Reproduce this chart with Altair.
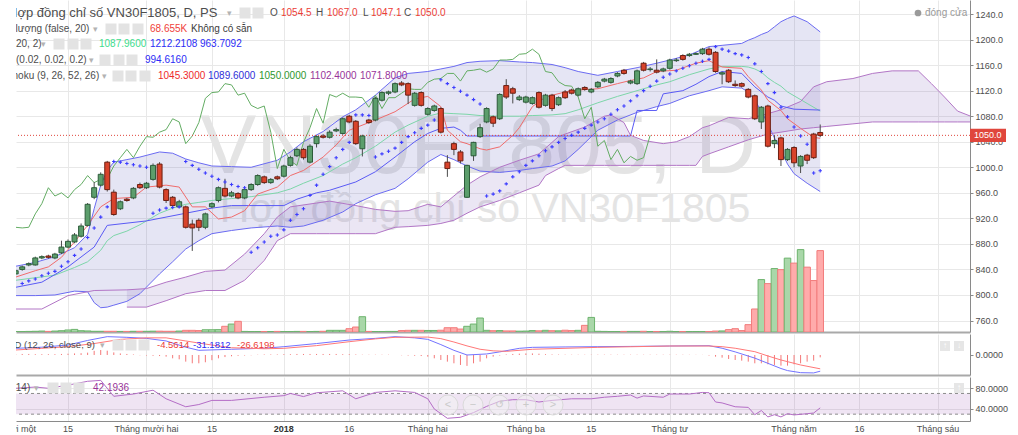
import altair as alt
import pandas as pd

# ======================= data =======================
# trading-day index: 0 = 1 Nov 2017 (Vietnamese holidays skipped)
IDX = list(range(2, 126))
OPEN = [833, 840, 847, 847, 858, 861, 858, 866, 875, 883,
        892, 909, 953, 972, 1008, 961, 935, 950, 952, 973,
        968, 981, 1005, 965, 953, 938, 938, 911, 917, 906,
        938, 948, 967, 955, 959, 952, 965, 973, 985, 976,
        985, 986, 1003, 1018, 1028, 1008, 1037, 1049, 1047, 1057,
        1053, 1080, 1072, 1029, 1074, 1074, 1105, 1116, 1118, 1132,
        1131, 1097, 1117, 1083, 1089, 1092, 1008, 1037, 1024, 953,
        1018, 1048, 1071, 1079, 1076, 1128, 1123, 1106, 1102, 1100,
        1117, 1097, 1113, 1098, 1118, 1121, 1113, 1125, 1118, 1126,
        1135, 1133, 1143, 1152, 1132, 1131, 1163, 1153, 1152, 1151,
        1155, 1167, 1175, 1175, 1177, 1178, 1185, 1180, 1146, 1152,
        1130, 1131, 1122, 1112, 1071, 1096, 1037, 1046, 1012, 1031,
        1002, 1019, 1052, 1054.5]
HIGH = [840, 846, 851, 860, 862, 863, 866, 885, 887, 897,
        912, 944, 977, 992, 1010, 965, 948, 952, 969, 976,
        977, 1006, 1008, 967, 955, 949, 940, 918, 920, 929,
        945, 970, 982, 963, 961, 967, 975, 989, 987, 983,
        987, 1004, 1018, 1031, 1030, 1036, 1050, 1052, 1058, 1062,
        1078, 1082, 1074, 1051, 1076, 1110, 1119, 1120, 1133, 1135,
        1133, 1118, 1119, 1094, 1098, 1094, 1019, 1040, 1027, 1004,
        1040, 1068, 1094, 1081, 1116, 1138, 1126, 1113, 1112, 1111,
        1119, 1115, 1115, 1111, 1121, 1123, 1125, 1127, 1124, 1135,
        1140, 1141, 1149, 1154, 1137, 1153, 1165, 1157, 1169, 1156,
        1170, 1171, 1177, 1179, 1180, 1187, 1188, 1182, 1150, 1154,
        1136, 1133, 1124, 1114, 1096, 1098, 1050, 1048, 1030, 1033,
        1019, 1021, 1054, 1067]
LOW = [831, 838, 845, 846, 856, 857, 856, 864, 873, 881,
       890, 907, 950, 970, 962, 924, 933, 946, 950, 966,
       966, 979, 967, 944, 938, 936, 904, 869, 900, 903,
       936, 945, 953, 953, 950, 950, 963, 971, 974, 974,
       980, 984, 1001, 1016, 1012, 1006, 1031, 1045, 1045, 1055,
       1051, 1069, 1035, 1017, 1068, 1072, 1103, 1113, 1116, 1127,
       1099, 1095, 1095, 1081, 1087, 1053, 985, 1019, 1006, 952,
       1010, 1046, 1069, 1063, 1074, 1107, 1100, 1104, 1100, 1098,
       1092, 1095, 1088, 1096, 1107, 1114, 1111, 1120, 1116, 1124,
       1133, 1131, 1141, 1145, 1130, 1129, 1150, 1150, 1147, 1149,
       1153, 1165, 1167, 1173, 1176, 1176, 1175, 1148, 1130, 1132,
       1126, 1125, 1108, 1074, 1060, 1031, 1030, 1002, 1010, 1000,
       991, 1005, 1013, 1047.1]
CLOSE = [838, 844, 849, 858, 860, 859, 864, 875, 884, 894,
         908, 942, 968, 989, 965, 926, 946, 948, 967, 968,
         975, 1003, 969, 948, 940, 946, 906, 905, 906, 927,
         943, 968, 955, 960, 952, 965, 973, 987, 976, 981,
         982, 1002, 1015, 1028, 1015, 1033, 1048, 1047, 1055, 1059,
         1076, 1071, 1037, 1049, 1070, 1108, 1117, 1118, 1131, 1129,
         1113, 1116, 1097, 1092, 1096, 1055, 998, 1028, 1010, 1003,
         1039, 1062, 1092, 1069, 1114, 1110, 1116, 1110, 1110, 1109,
         1094, 1113, 1092, 1109, 1109, 1116, 1123, 1122, 1122, 1133,
         1138, 1139, 1147, 1147, 1135, 1151, 1152, 1154, 1149, 1154,
         1168, 1168, 1169, 1177, 1178, 1185, 1177, 1150, 1148, 1134,
         1128, 1127, 1110, 1076, 1094, 1033, 1042, 1012, 1028, 1007,
         1017, 1011, 1015, 1050]
VOLUME_K = [0.4, 0.4, 0.5, 0.6, 0.8, 0.5, 0.8, 1.1, 1.7, 2.2,
            1.1, 0.9, 0.6, 0.6, 0.6, 0.6, 0.5, 0.5, 0.6, 0.6,
            0.6, 0.7, 0.7, 0.6, 0.6, 0.8, 1.4, 1.4, 1.2, 1.9,
            1.9, 2.0, 4.8, 6.7, 9.0, 0.5, 0.4, 0.4, 0.4, 0.4,
            0.5, 0.4, 0.4, 0.5, 0.5, 0.4, 0.5, 0.6, 1.4, 1.4,
            1.4, 2.8, 4.2, 12.9, 0.5, 0.4, 0.4, 0.5, 0.5, 1.2,
            1.4, 1.4, 1.4, 1.3, 1.3, 1.5, 3.6, 3.6, 2.5, 4.8,
            6.7, 11.8, 1.4, 1.1, 1.2, 0.9, 0.9, 0.7, 0.8, 1.2,
            1.0, 1.4, 1.1, 1.0, 1.5, 1.2, 1.4, 5.6, 12.3, 0.6,
            0.5, 0.4, 0.4, 0.5, 0.5, 0.5, 0.6, 0.4, 0.4, 0.4,
            0.6, 0.4, 0.4, 0.4, 0.4, 0.4, 0.4, 0.8, 0.9, 2.0,
            2.8, 1.2, 6.2, 19.4, 44.2, 40.8, 53.5, 52.6, 62.3, 58.1,
            69.5, 54.7, 43.4, 68.655]
MACD_HIST = [2, 2, 2, 1.5, 1.5, 1.5, 1.5, 2, 2.5, 3,
             3.5, 4.5, 8, 9.6, 8.3, 5, 3, 2, 1, -0.5,
             -1, -1.5, -2, -3.2, -6.4, -8.3, -12.8, -16, -16, -14,
             -10, -6.4, -4, -2.5, -1.5, -1, -0.5, 0.5, 1, 1,
             1, 1.5, 1.5, 2, 2, 2, 2, 2, 2, 2,
             1.5, 1.5, 1, 0.5, 0.5, 0.5, 0.5, 0.5, 0, -0.5,
             -1, -1.5, -2, -3.2, -6.4, -9.6, -12.8, -16, -19.2, -21,
             -16, -12.8, -6.4, -3.2, -1, 1, 2, 2.5, 3, 3,
             2.5, 1.5, 1, 0.8, 0.6, 0.5, 0.5, 0.5, 0.5, 0.6,
             0.6, 0.6, 0.5, 0.5, 0.5, 0.5, 0.5, 0.5, 0.5, 0.5,
             0.5, 0.5, 0.5, 0.4, 0.3, 0.2, -1, -3.2, -5.1, -7.7,
             -9.6, -10.9, -12.8, -16, -16, -17.9, -19.2, -20.5, -20.5, -17.9,
             -16, -12.8, -10.9, -4.56]

BB_I = [2, 5, 8, 11, 13, 14, 15, 16, 17, 19, 21, 24, 26, 28, 30, 32, 35, 38, 42, 44,
        46, 49, 52, 54, 57, 60, 62, 65, 67, 69, 71, 73, 76, 79, 81, 84, 86, 88, 91, 94,
        97, 100, 102, 105, 108, 110, 113, 114, 115, 116, 117, 118, 119, 120, 121, 123, 125]
BB_UPPER = [845, 851, 860, 874, 895, 935, 972, 995, 1008, 1012, 1016, 1024, 1022, 1013, 1007, 1002, 1001, 1000, 1011, 1024,
            1040, 1056, 1079, 1090, 1113, 1140, 1147, 1150, 1154, 1158, 1164, 1166, 1167, 1165, 1164, 1161, 1156, 1150, 1144, 1150,
            1156, 1163, 1168, 1176, 1189, 1191, 1194, 1199, 1203, 1208, 1212, 1220, 1228, 1233, 1237, 1228, 1212]
BB_MID = [823, 827, 831, 843, 852, 861, 870, 885, 893, 900, 910, 928, 936, 942, 945, 948, 951, 954, 960, 966,
          975, 987, 1005, 1015, 1033, 1055, 1066, 1080, 1085, 1084, 1083, 1081, 1080, 1080, 1081, 1082, 1084, 1090, 1101, 1111,
          1120, 1129, 1134, 1145, 1154, 1158, 1158, 1157, 1154, 1149, 1140, 1133, 1127, 1118, 1112, 1100, 1088]
BB_LOWER = [799, 799, 800, 806, 805, 788, 780, 781, 784, 790, 802, 833, 852, 872, 885, 896, 901, 905, 908, 906,
            908, 917, 930, 943, 957, 967, 982, 1008, 1020, 1012, 1002, 994, 992, 995, 998, 1002, 1010, 1028, 1058, 1074,
            1086, 1095, 1100, 1112, 1120, 1126, 1124, 1118, 1105, 1088, 1068, 1046, 1027, 1005, 990, 975, 962]

TENKAN_I = [2, 5, 7, 9, 11, 13, 15, 17, 20, 22, 25, 27, 29, 31, 33, 35, 37, 39, 42, 44,
            46, 49, 51, 53, 57, 60, 63, 65, 67, 68, 70, 71, 73, 74, 76, 78, 79, 81, 83, 86,
            88, 91, 94, 96, 98, 100, 103, 106, 108, 110, 113, 114, 116, 117, 119, 120, 122, 124, 125]
TENKAN = [828, 838, 844, 859, 883, 909, 938, 951, 953, 969, 972, 969, 938, 938, 919, 922, 932, 958, 969, 987,
          995, 1016, 1035, 1058, 1074, 1087, 1107, 1111, 1095, 1058, 1040, 1037, 1029, 1027, 1032, 1050, 1062, 1095, 1110, 1118,
          1121, 1123, 1131, 1136, 1140, 1150, 1152, 1163, 1167, 1157, 1155, 1142, 1121, 1105, 1089, 1076, 1061, 1047, 1045.3]
KIJUN_I = [2, 6, 10, 14, 16, 22, 28, 32, 35, 43, 45, 48, 50, 54, 57, 60, 63, 65, 67, 69,
           70, 71, 96, 97, 100, 101, 104, 106, 108, 110, 113, 115, 117, 118, 119, 121, 125]
KIJUN = [812, 820, 844, 875, 909, 916, 928, 936, 940, 940, 950, 960, 964, 977, 993, 1016, 1040, 1053, 1061, 1063,
         1058, 1049, 1049, 1089, 1089, 1115, 1120, 1130, 1142, 1150, 1147, 1126, 1110, 1105, 1096, 1091, 1089.6]
SAR_I = list(range(3, 126))
SAR = [818, 822, 825, 830, 834, 837, 845, 852, 862, 872, 890, 905, 922, 938,
       1009, 1008, 1006, 1004, 1002, 1000,
       928, 933, 936, 937, 938,
       1009, 1003, 997, 991, 986, 981, 977, 973, 970, 968,
       867, 874, 883, 892, 894, 902, 917, 926, 935, 956, 972, 989, 1001, 1015, 1028, 1039,
       1082, 1082, 1081,
       1016, 1021, 1025, 1030, 1039, 1048, 1054, 1061, 1066, 1074,
       1137, 1131, 1125, 1119, 1113, 1106, 1099,
       955, 958, 963, 974, 985, 993, 1003, 1010, 1018, 1026, 1032, 1039, 1045, 1050, 1055,
       1061, 1066, 1071, 1076, 1083, 1090, 1096, 1104, 1112, 1120, 1127, 1135, 1141, 1146, 1151,
       1155, 1159, 1163, 1166, 1169,
       1189, 1185, 1182, 1178, 1176, 1172, 1162, 1150, 1131, 1117, 1094, 1079, 1063, 1049, 1036,
       991, 994.6]
SPAN_A_LEAD_I = [2, 6, 10, 14]
SPAN_A_LEAD = [778, 778, 799, 807]
CLOUD_I = [19, 22, 25, 28, 31, 34, 37, 40, 42, 44, 48, 50, 54, 57, 60, 62, 65, 67, 69, 71,
           73, 76, 79, 82, 83, 85, 86, 89, 92, 93, 95, 96, 98, 101, 103, 105, 106, 107, 108, 111,
           114, 117, 119, 122, 124, 126, 130, 133, 136, 140, 142, 144, 146, 148, 151]
SPAN_A = [808, 810, 820, 828, 837, 839, 864, 896, 922, 938, 944, 947, 940, 934, 931, 932, 942, 938, 955, 972,
          985, 1000, 1011, 1021, 1030, 1048, 1052, 1063, 1080, 1082, 1070, 1050, 1042, 1037, 1040, 1048, 1055, 1062, 1065, 1078,
          1076, 1084, 1090, 1103, 1126, 1134, 1139, 1147, 1151, 1151, 1131, 1110, 1088, 1080, 1077]
SPAN_B = [781, 781, 791, 802, 807, 807, 823, 854, 885, 896, 896, 896, 896, 896, 906, 907, 909, 912, 917, 928,
          938, 948, 960, 972, 987, 998, 1003, 1003, 1003, 1003, 1003, 1003, 1003, 1003, 1003, 1003, 1003, 1017, 1021, 1032,
          1043, 1052, 1055, 1060, 1062, 1064, 1068, 1071, 1071, 1071, 1071, 1071, 1071, 1071, 1071]
CHIKOU_SHIFT = 26

MACD_I = [2, 6, 10, 13, 16, 19, 22, 25, 28, 30, 35, 40, 43, 48, 53, 57, 60, 63, 65, 67,
          69, 71, 74, 76, 79, 81, 86, 91, 96, 102, 108, 110, 112, 115, 117, 119, 120, 122, 124, 125]
MACD = [12.8, 15, 19.2, 28, 35.3, 34, 32, 27, 15, 9, 11, 13, 16, 22, 28.8, 32, 35.3, 33, 30.1, 20,
        9, 0, 2, 6, 12.8, 14.7, 15.5, 16, 16.5, 17.3, 17.9, 13, 6, -6, -16, -26, -30, -34, -34.5, -31.2]
SIGNAL_I = [2, 6, 10, 14, 18, 22, 25, 28, 31, 35, 40, 43, 48, 53, 57, 60, 65, 67, 69, 71,
            73, 75, 77, 81, 91, 102, 108, 110, 112, 115, 117, 119, 122, 125]
SIGNAL = [9.6, 12.8, 16, 22, 30, 33, 33, 27, 21, 14, 12, 12.8, 18, 25.6, 31, 34, 34.5, 31.5, 25, 17.5,
          11, 8, 7, 11, 14.7, 17.3, 17.3, 16, 13, 6.4, -1.9, -9.6, -19.2, -26.6]
RSI_I = [2, 5, 7, 10, 13, 15, 17, 20, 23, 25, 28, 30, 32, 35, 40, 43, 44, 46, 48, 52,
         54, 57, 60, 63, 65, 66, 68, 70, 72, 74, 76, 78, 80, 82, 84, 87, 90, 92, 94, 96,
         97, 98, 101, 102, 105, 107, 108, 109, 110, 112, 114, 115, 116, 117, 118, 119, 120, 121, 123, 124, 125]
RSI = [80, 82.4, 80, 86.1, 93.5, 95.3, 64.5, 68.9, 76.3, 59.7, 44.3, 48.6, 56.6, 56.6, 62.7, 65.8, 70, 64, 71.4, 75.1,
       59.7, 72, 75.1, 72, 59.7, 40, 22, 24, 33, 45, 55, 58, 57.9, 53.5, 56.6, 59.7, 59.7, 62.7, 64.5, 67,
       61, 65.2, 62.7, 68.9, 68.9, 72, 71.4, 53.5, 51.7, 44.3, 43.1, 29, 37, 24.7, 29, 24.7, 30.9, 28.5, 30.9, 32.2, 42.2]

TICK_I = [10, 22, 32, 43, 53, 65, 80, 90, 102, 121, 131, 143]
TICK_TEXT = ["15", "Tháng mười hai", "15", "2018", "16", "Tháng hai", "Tháng ba", "15",
             "Tháng tư", "Tháng năm", "16", "Tháng sáu"]
FIRST_LABEL_I = 0
FIRST_LABEL = "Tháng mười một"
PRICE_TICKS = [760, 800, 840, 880, 920, 960, 1000, 1040, 1080, 1120, 1160, 1200, 1240]

BB_LEGEND = ["1087.9600", "1212.2108", "963.7092"]
SAR_LEGEND = "994.6160"
ICHI_LEGEND = ["1045.3000", "1089.6000", "1050.0000", "1102.4000", "1071.8000"]
MACD_LEGEND = ["-4.5614", "-31.1812", "-26.6198"]
RSI_LEGEND = "42.1936"

# ======================= styling / layout =======================
W = 954
H_MAIN, H_MACD, H_RSI, H_LAB = 332, 41, 44, 12
FONT = "Liberation Sans"
GREY = "#4d4d4d"
RED_V = "#ec3d36"
BLUE_V = "#2b2bf5"
PURPLE_V = "#983399"
PLUS_SHAPE = "M-1,0L1,0M0,-1L0,1"

XS = alt.Scale(domain=[2.05, 147.9], nice=False, zero=False)
YP = alt.Scale(domain=[742, 1262], nice=False, zero=False)
YV = alt.Scale(domain=[0, 280], nice=False, zero=True)
YM = alt.Scale(domain=[-38.5, 40.4], nice=False, zero=False)
YR = alt.Scale(domain=[16.8, 101.8], nice=False, zero=False)


def x_axis(dw, dc):
    return alt.Axis(values=TICK_I, labels=False, ticks=False, domain=True, domainColor=dc,
                    domainWidth=dw, grid=True, gridColor="#e8e8e8", title=None)


def y_axis(values, fmt, grid=True):
    return alt.Axis(orient="right", values=values, format=fmt, grid=grid, gridColor="#e8e8e8",
                    tickSize=3, tickColor="#8a8a8a", domain=True, domainColor="#8a8a8a",
                    labelPadding=2, labelFlush=False, labelOverlap=False, labelFontSize=9,
                    labelColor=GREY, labelFont=FONT, title=None)


AXX_MAIN = x_axis(2, "#a9a9a9")
AXX_MACD = x_axis(2, "#a9a9a9")
AXX_RSI = x_axis(1, "#8a8a8a")
AXY_MAIN = y_axis(PRICE_TICKS, ".1f")
AXY_MACD = y_axis([0], ".4f", grid=False)
AXY_RSI = y_axis([40, 80], ".4f")

ONE = pd.DataFrame({"k": [0]})


def txt(s, x, y, color=GREY, size=10, clip=False, weight="normal", align="left", baseline="middle"):
    return alt.Chart(ONE).mark_text(text=s, color=color, fontSize=size, font=FONT, fontWeight=weight,
                                    align=align, baseline=baseline, clip=clip).encode(
        x=alt.value(x), y=alt.value(y))


def box(x, y, side=11, color="#e3e3e3"):
    return alt.Chart(ONE).mark_point(shape="square", size=side * side, filled=True, color=color,
                                     opacity=1).encode(x=alt.value(x), y=alt.value(y))


def arrow(y, x):
    return txt("▾", x, y, color="#b3b3b3", size=9)


def xm(field, ax=AXX_MAIN):
    return alt.X(f"{field}:Q", scale=XS, axis=ax)


def yp(field):
    return alt.Y(f"{field}:Q", scale=YP, axis=AXY_MAIN)


base = pd.DataFrame({"i": IDX, "o": OPEN, "h": HIGH, "l": LOW, "c": CLOSE, "v": VOLUME_K, "hist": MACD_HIST})
UP = "datum.c >= datum.o"

# ----------------------------- main pane -----------------------------
volume = (alt.Chart(base)
          .transform_calculate(x0="datum.i - 0.5", x1="datum.i + 0.5", z="0")
          .mark_rect(clip=True, strokeWidth=1)
          .encode(x=xm("x0"), x2="x1:Q",
                  y=alt.Y("v:Q", scale=YV, axis=None), y2="z:Q",
                  fill=alt.condition(UP, alt.value("#a9d7a9"), alt.value("#ffabab")),
                  stroke=alt.condition(UP, alt.value("#6db36d"), alt.value("#f27c7c"))))

wm1 = txt("VN30F1805, D", 462, 173, color="#e4e4e4", size=84, align="center", baseline="alphabetic")
wm2 = txt("Hợp đồng chỉ số VN30F1805", 469, 222, color="#e4e4e4", size=41, align="center",
          baseline="alphabetic")

bb_df = pd.DataFrame({"i": BB_I, "u": BB_UPPER, "m": BB_MID, "lo": BB_LOWER})
cloud_df = pd.DataFrame({"i": CLOUD_I, "a": SPAN_A, "b": SPAN_B})
bb_fill = alt.Chart(bb_df).mark_area(clip=True, color="#5b5bb8", opacity=0.16).encode(
    x=xm("i"), y=yp("u"), y2="lo:Q")
cloud_fill = alt.Chart(cloud_df).mark_area(clip=True, color="#7a58b8", opacity=0.15).encode(
    x=xm("i"), y=yp("a"), y2="b:Q")


def pline(df, field, color, width=1):
    return alt.Chart(df).mark_line(clip=True, color=color, strokeWidth=width).encode(
        x=xm("i"), y=yp(field))


bb_u = pline(bb_df, "u", "#6b6bf2")
bb_l = pline(bb_df, "lo", "#6b6bf2")
bb_m = pline(bb_df, "m", "#7dd6a9")
span_a = pline(pd.DataFrame({"i": SPAN_A_LEAD_I + CLOUD_I, "v": SPAN_A_LEAD + SPAN_A}), "v", "#b276c6")
span_b = pline(pd.DataFrame({"i": CLOUD_I, "v": SPAN_B}), "v", "#b276c6")
kijun = pline(pd.DataFrame({"i": KIJUN_I, "v": KIJUN}), "v", "#5a5af5")
tenkan = pline(pd.DataFrame({"i": TENKAN_I, "v": TENKAN}), "v", "#f06c6c")
chikou = (alt.Chart(base).transform_calculate(ci=f"datum.i - {CHIKOU_SHIFT}")
          .mark_line(clip=True, color="#64ad64", strokeWidth=1)
          .encode(x=xm("ci"), y=yp("c")))

last_df = pd.DataFrame({"p": [CLOSE[-1]]})
price_rule = alt.Chart(last_df).mark_rule(color="#e0463c", strokeDash=[1, 2], strokeWidth=1).encode(y=yp("p"))

wicks = alt.Chart(base).mark_rule(clip=True, color="#4a4a4a", strokeWidth=1).encode(
    x=xm("i"), y=yp("l"), y2="h:Q")
bodies = (alt.Chart(base)
          .transform_calculate(b0="datum.i - 0.38", b1="datum.i + 0.38")
          .mark_rect(clip=True, strokeWidth=1)
          .encode(x=xm("b0"), x2="b1:Q", y=yp("o"), y2="c:Q",
                  fill=alt.condition(UP, alt.value("#5c9e6c"), alt.value("#d8432b")),
                  stroke=alt.condition(UP, alt.value("#2d5c3a"), alt.value("#6c1f12"))))
sar = alt.Chart(pd.DataFrame({"i": SAR_I, "v": SAR})).mark_point(
    shape=PLUS_SHAPE, size=12, filled=False, stroke="#3c3cff", strokeWidth=1.1, opacity=1,
    clip=True).encode(x=xm("i"), y=yp("v"))

badge = (alt.Chart(last_df).transform_calculate(t="datum.p + 10.5", b="datum.p - 10.5")
         .mark_rect(color="#e0463c").encode(x=alt.value(954), x2=alt.value(990), y=yp("t"), y2="b:Q"))
badge_txt = alt.Chart(last_df).mark_text(color="white", fontSize=9, font=FONT, align="left",
                                         baseline="middle").encode(
    x=alt.value(958), y=yp("p"), text=alt.Text("p:Q", format=".1f"))

close_dot = alt.Chart(ONE).mark_point(shape="circle", size=45, filled=True, color="#9a9a9a",
                                      opacity=1).encode(x=alt.value(902), y=alt.value(13))
close_txt = txt("đóng cửa", 909, 13, color="#9a9a9a", size=10)

legend_main = [
    txt("Hợp đồng chỉ số VN30F1805, D, PS", -8, 13, size=13, clip=True),
    arrow(13, 211), box(229, 13), box(242, 13),
    txt("O", 254, 13), txt(f"{OPEN[-1]:.1f}", 265, 13, color=RED_V),
    txt("H", 300, 13), txt(f"{HIGH[-1]:.1f}", 311, 13, color=RED_V),
    txt("L", 347, 13), txt(f"{LOW[-1]:.1f}", 355, 13, color=RED_V),
    txt("C", 388, 13), txt(f"{CLOSE[-1]:.1f}", 399, 13, color=RED_V),

    txt("Khối lượng (false, 20)", -23.3, 29, clip=True),
    arrow(29, 77), box(95, 29), box(108, 29), box(122, 29),
    txt(f"{VOLUME_K[-1]:.3f}K", 134, 29, color="#f0413a"),
    txt("Không có sẵn", 175, 29, color="#3c3c3c"),

    txt("BB (20, 2)", -19.5, 44, clip=True),
    arrow(44, 25), box(43, 44), box(57, 44), box(70, 44),
    txt(BB_LEGEND[0], 83, 44, color="#3ddc8c"),
    txt(BB_LEGEND[1], 134, 44, color=BLUE_V),
    txt(BB_LEGEND[2], 184, 44, color=BLUE_V),

    txt("SAR (0.02, 0.02, 0.2)", -23.3, 60, clip=True),
    arrow(60, 73), box(89, 60), box(103, 60), box(116, 60),
    txt(SAR_LEGEND, 129, 60, color=BLUE_V),

    txt("Ichimoku (9, 26, 52, 26)", -21.8, 76, clip=True),
    arrow(76, 86), box(102, 76), box(115, 76), box(129, 76),
    txt(ICHI_LEGEND[0], 142, 76, color="#ee2a2a"),
    txt(ICHI_LEGEND[1], 192, 76, color="#2d2dd8"),
    txt(ICHI_LEGEND[2], 243, 76, color="#2e962e"),
    txt(ICHI_LEGEND[3], 294, 76, color=PURPLE_V),
    txt(ICHI_LEGEND[4], 344, 76, color=PURPLE_V),
]

price_layer = alt.layer(
    wm1, wm2, bb_fill, cloud_fill, bb_u, bb_l, bb_m, span_a, span_b, kijun, tenkan, chikou,
    price_rule, wicks, bodies, sar, badge, badge_txt, close_dot, close_txt, *legend_main)

main = alt.layer(volume, price_layer).resolve_scale(y="independent").properties(width=W, height=H_MAIN)

# ----------------------------- MACD pane -----------------------------
def ym(field):
    return alt.Y(f"{field}:Q", scale=YM, axis=AXY_MACD)


hist = (alt.Chart(base).transform_calculate(z="0")
        .mark_rule(clip=True, color="#f47878", strokeWidth=1)
        .encode(x=xm("i", AXX_MACD), y=ym("hist"), y2="z:Q"))
macd_line = alt.Chart(pd.DataFrame({"i": MACD_I, "v": MACD})).mark_line(
    clip=True, color="#7373ff", strokeWidth=1).encode(x=xm("i", AXX_MACD), y=ym("v"))
signal_line = alt.Chart(pd.DataFrame({"i": SIGNAL_I, "v": SIGNAL})).mark_line(
    clip=True, color="#ff7878", strokeWidth=1).encode(x=xm("i", AXX_MACD), y=ym("v"))

macd_texts = [
    txt("MACD (12, 26, close, 9)", -22.5, 11, size=9.5, clip=True),
    arrow(11, 84), box(102, 11), box(115, 11), box(128, 11),
    txt(MACD_LEGEND[0], 141, 11, color=RED_V, size=9.5),
    txt(MACD_LEGEND[1], 177, 11, color=BLUE_V, size=9.5),
    txt(MACD_LEGEND[2], 221, 11, color=RED_V, size=9.5),
    box(929, 12, 10, "#e6e6e6"), box(943, 12, 10, "#e6e6e6"),
    txt("↑", 929, 12, color="white", size=8, align="center"),
    txt("↓", 943, 12, color="white", size=8, align="center"),
]
macd = alt.layer(hist, macd_line, signal_line, *macd_texts).properties(width=W, height=H_MACD)

# ----------------------------- RSI pane -----------------------------
def yr(field):
    return alt.Y(f"{field}:Q", scale=YR, axis=AXY_RSI)


band = alt.Chart(pd.DataFrame({"a": [70], "b": [30]})).mark_rect(color="#9b59b6", opacity=0.16).encode(
    x=alt.value(0), x2=alt.value(W), y=yr("a"), y2="b:Q")
levels = alt.Chart(pd.DataFrame({"v": [70, 30]})).mark_rule(
    color="#8c8c8c", strokeDash=[3, 3], strokeWidth=1).encode(y=yr("v"))
rsi_line = alt.Chart(pd.DataFrame({"i": RSI_I, "v": RSI})).mark_line(
    clip=True, color="#b46dc6", strokeWidth=1).encode(x=xm("i", AXX_RSI), y=yr("v"))

nav = []
for nx, glyph in zip([432, 457, 483, 510, 537], ["<", "−", "↺", "+", ">"]):
    nav.append(alt.Chart(ONE).mark_point(shape="circle", size=400, filled=True, fill="#f4f4f4",
                                         fillOpacity=0.5, stroke="#dadada", strokeWidth=1).encode(
        x=alt.value(nx), y=alt.value(28)))
    nav.append(txt(glyph, nx, 28, color="#cacaca", size=11, align="center"))

rsi_texts = [
    txt("RSI (14)", -23, 11, clip=True),
    arrow(11, 18), box(37, 11), box(50, 11), box(63, 11),
    txt(RSI_LEGEND, 77, 11, color=PURPLE_V),
    box(943, 11, 10, "#e6e6e6"),
    txt("↑", 943, 11, color="white", size=8, align="center"),
]
rsi = alt.layer(band, levels, rsi_line, *nav, *rsi_texts).properties(width=W, height=H_RSI)

# ----------------------------- date labels -----------------------------
lab_df = pd.DataFrame({"i": [FIRST_LABEL_I] + TICK_I, "t": [FIRST_LABEL] + TICK_TEXT})
lab_norm = (alt.Chart(lab_df).transform_filter("datum.t != '2018'")
            .mark_text(clip=True, fontSize=9, font=FONT, color=GREY, baseline="middle")
            .encode(x=alt.X("i:Q", scale=XS, axis=None), y=alt.value(6), text="t:N"))
lab_bold = (alt.Chart(lab_df).transform_filter("datum.t == '2018'")
            .mark_text(clip=True, fontSize=9, font=FONT, color="#333333", fontWeight="bold",
                       baseline="middle")
            .encode(x=alt.X("i:Q", scale=XS, axis=None), y=alt.value(6), text="t:N"))
labels = alt.layer(lab_norm, lab_bold).properties(width=W, height=H_LAB)

chart = (alt.vconcat(main, macd, rsi, labels, spacing=2)
         .properties(padding={"left": 15, "top": 0, "right": 4, "bottom": 0}, background="white")
         .configure_view(stroke=None))

chart.save("out.html", embed_options={"renderer": "svg", "actions": False})
